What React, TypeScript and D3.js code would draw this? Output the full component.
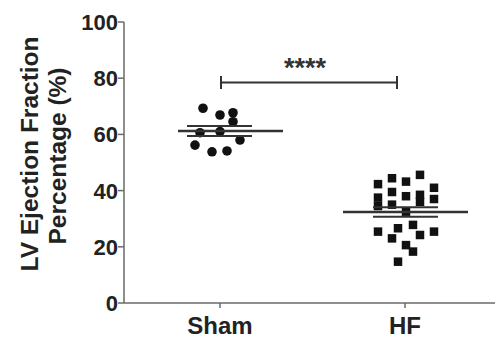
import React from "react";
import * as d3 from "d3";

const yTicks = [0, 20, 40, 60, 80, 100];
const groups = ["Sham", "HF"];

// Sham: jitter offsets (px) and values
const shamOffsets = [-17, 0, 13, 13, -20, 0, 20, -25, -8, 7];
const shamValues = [69.3, 66.9, 67.7, 64.5, 60.6, 61.0, 58.0, 56.2, 53.8, 54.1];

const hfOffsets = [-27, -27, -27, -27, -13, -13, -13, -13, 1, 1, 1, 1, 15, 15, 15, 15, 29, 29, 29, -7, -7, 8, 8];
const hfValues = [42.3, 37.5, 34.5, 25.4, 44.4, 39.5, 35.0, 23.0, 43.2, 38.0, 32.5, 20.6, 45.6, 38.5, 36.0, 24.2, 41.0, 37.0, 25.4, 26.6, 14.7, 27.8, 18.3];

const shamMean = 61.2;
const shamSem = 1.8;
const hfMean = 32.4;
const hfSem = 1.7;

export default function App() {
  const W = 495, H = 339;
  const x0 = 124, x1 = 495;
  const y = d3.scaleLinear().domain([0, 100]).range([303, 22]);
  const xc = d3.scalePoint<string>().domain(groups).range([220, 405]);
  const font = "'Liberation Sans', Arial, sans-serif";
  const axisColor = "#6a6a6a";
  const sx = xc("Sham")!;
  const hx = xc("HF")!;
  const sqSize = 8.5;

  return (
    <svg width={W} height={H} style={{ position: "absolute", left: 0, top: 0, background: "#fff" }}>
      {/* axes */}
      <line x1={x0} x2={x0} y1={y(100)} y2={y(0)} stroke={axisColor} strokeWidth={1.5} />
      <line x1={x0} x2={x1} y1={y(0)} y2={y(0)} stroke={axisColor} strokeWidth={1.5} />
      {yTicks.map((t) => (
        <g key={t}>
          <line x1={x0 - 6} x2={x0} y1={y(t)} y2={y(t)} stroke={axisColor} strokeWidth={1.5} />
          <text x={x0 - 6} y={y(t)} dy="0.36em" textAnchor="end" fontFamily={font} fontWeight="bold" fontSize={22} fill="#222">
            {t}
          </text>
        </g>
      ))}
      {groups.map((g) => (
        <g key={g}>
          <line x1={xc(g)} x2={xc(g)} y1={y(0)} y2={y(0) + 5} stroke={axisColor} strokeWidth={1.5} />
          <text x={xc(g)} y={334} textAnchor="middle" fontFamily={font} fontWeight="bold" fontSize={24} fill="#222">
            {g}
          </text>
        </g>
      ))}
      {/* y label */}
      <g transform="translate(29,154) rotate(-90)">
        <text textAnchor="middle" dy="0.36em" fontFamily={font} fontWeight="bold" fontSize={24.5} fill="#222">
          LV Ejection Fraction
        </text>
      </g>
      <g transform="translate(57,156) rotate(-90)">
        <text textAnchor="middle" dy="0.36em" fontFamily={font} fontWeight="bold" fontSize={24.5} fill="#222">
          Percentage (%)
        </text>
      </g>
      {/* Sham points */}
      {shamValues.map((v, i) => (
        <circle key={i} cx={sx + shamOffsets[i]} cy={y(v)} r={4.8} fill="#111" />
      ))}
      {/* HF points */}
      {hfValues.map((v, i) => (
        <rect key={i} x={hx + hfOffsets[i] - sqSize / 2} y={y(v) - sqSize / 2} width={sqSize} height={sqSize} fill="#111" />
      ))}
      {/* mean & SEM */}
      <line x1={178} x2={283} y1={y(shamMean)} y2={y(shamMean)} stroke="#333" strokeWidth={2.5} />
      <line x1={187} x2={252} y1={y(shamMean + shamSem)} y2={y(shamMean + shamSem)} stroke="#333" strokeWidth={2} />
      <line x1={187} x2={252} y1={y(shamMean - shamSem)} y2={y(shamMean - shamSem)} stroke="#333" strokeWidth={2} />
      <line x1={343} x2={468} y1={y(hfMean)} y2={y(hfMean)} stroke="#333" strokeWidth={2.5} />
      <line x1={373} x2={438} y1={y(hfMean + hfSem)} y2={y(hfMean + hfSem)} stroke="#333" strokeWidth={2} />
      <line x1={373} x2={438} y1={y(hfMean - hfSem)} y2={y(hfMean - hfSem)} stroke="#333" strokeWidth={2} />
      {/* significance bracket */}
      <line x1={221} x2={397} y1={82.5} y2={82.5} stroke="#333" strokeWidth={2} />
      <line x1={221} x2={221} y1={76} y2={89} stroke="#333" strokeWidth={2} />
      <line x1={397} x2={397} y1={76} y2={89} stroke="#333" strokeWidth={2} />
      <text x={305} y={77} textAnchor="middle" fontFamily={font} fontWeight="bold" fontSize={27} fill="#333">
        ****
      </text>
    </svg>
  );
}
